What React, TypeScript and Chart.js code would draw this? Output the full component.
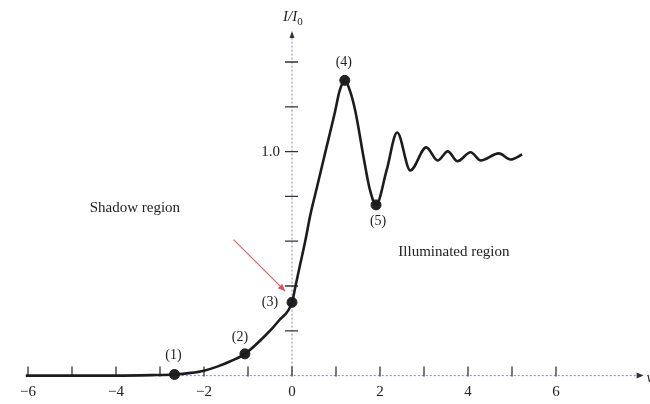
import React, { useEffect, useRef } from "react";
import { Chart, registerables } from "chart.js";

Chart.register(...registerables);

// Curve: v (Fresnel parameter) and relative intensity I/I0
const curveV = [-6.05, -5, -4, -3.2, -2.67, -2.3, -2.0, -1.7, -1.4, -1.07, -0.6, -0.3, 0, 0.08, 0.19, 0.3, 0.42, 0.57, 0.73, 0.98, 1.08, 1.2, 1.32, 1.44, 1.64, 1.77, 1.91, 2.15, 2.39, 2.69, 3.05, 3.31, 3.54, 3.76, 4.06, 4.29, 4.7, 4.97, 5.23];
const curveI = [0.0, 0.0, 0.0, 0.002, 0.005, 0.012, 0.022, 0.04, 0.064, 0.097, 0.18, 0.245, 0.327, 0.4, 0.5, 0.6, 0.72, 0.843, 0.975, 1.18, 1.27, 1.318, 1.27, 1.18, 0.96, 0.83, 0.762, 0.916, 1.085, 0.916, 1.019, 0.96, 1.001, 0.957, 0.997, 0.96, 0.992, 0.965, 0.987];

// Marked points
const markerV = [-2.67, -1.07, 0, 1.2, 1.91];
const markerI = [0.005, 0.097, 0.327, 1.318, 0.762];
const markerLabels = ["(1)", "(2)", "(3)", "(4)", "(5)"];

// Axes
const xTickValues = [-6, -5, -4, -3, -2, -1, 0, 1, 2, 3, 4, 5, 6];
const xLabelValues = [-6, -4, -2, 0, 2, 4, 6];
const xLabelTexts = ["\u22126", "\u22124", "\u22122", "0", "2", "4", "6"];
const yTickValues = [0.2, 0.4, 0.6, 0.8, 1.0, 1.2, 1.4];
const yLabelValues = [1.0];
const yLabelTexts = ["1.0"];
const xAxisEnd = 7.9;
const yAxisEnd = 1.52;

// Region captions (data coordinates)
const regionTexts = ["Shadow region", "Illuminated region"];
const regionV = [-3.57, 3.68];
const regionI = [0.75, 0.55];

// Red pointer arrow (data coordinates): from -> to
const pointerFromV = -1.33;
const pointerFromI = 0.607;
const pointerToV = -0.154;
const pointerToI = 0.377;

const SERIF = '"Liberation Serif", "DejaVu Serif", "Times New Roman", serif';

const labelOffsets: [number, number][] = [
  [-1, -19],
  [-5, -17],
  [-22, 0],
  [-1, -18],
  [2, 16],
];

const overlayPlugin = {
  id: "figOverlay",
  beforeDatasetsDraw(chart: any) {
    const ctx = chart.ctx;
    const xs = chart.scales.x;
    const ys = chart.scales.y;
    const x0 = xs.getPixelForValue(0);
    const y0 = ys.getPixelForValue(0);
    ctx.save();
    // axis lines (dotted, bluish)
    ctx.strokeStyle = "rgba(110,110,200,0.85)";
    ctx.lineWidth = 1;
    ctx.setLineDash([2, 2]);
    ctx.beginPath();
    ctx.moveTo(xs.getPixelForValue(-6.05), y0);
    ctx.lineTo(xs.getPixelForValue(xAxisEnd), y0);
    ctx.moveTo(x0, y0);
    ctx.lineTo(x0, ys.getPixelForValue(yAxisEnd));
    ctx.stroke();
    ctx.setLineDash([]);
    // arrow heads
    const xe = xs.getPixelForValue(xAxisEnd);
    const ye = ys.getPixelForValue(yAxisEnd);
    ctx.fillStyle = "#333";
    ctx.beginPath();
    ctx.moveTo(xe + 4, y0);
    ctx.lineTo(xe - 3, y0 - 3);
    ctx.lineTo(xe - 3, y0 + 3);
    ctx.closePath();
    ctx.fill();
    ctx.beginPath();
    ctx.moveTo(x0, ye - 4);
    ctx.lineTo(x0 - 2.5, ye + 3);
    ctx.lineTo(x0 + 2.5, ye + 3);
    ctx.closePath();
    ctx.fill();
    // tick marks
    ctx.strokeStyle = "#333";
    ctx.lineWidth = 1.3;
    ctx.beginPath();
    xTickValues.forEach((v) => {
      const px = xs.getPixelForValue(v);
      ctx.moveTo(px, y0 + 1);
      ctx.lineTo(px, y0 - 9);
    });
    yTickValues.forEach((v) => {
      const py = ys.getPixelForValue(v);
      ctx.moveTo(x0 - 7, py);
      ctx.lineTo(x0 + 6, py);
    });
    ctx.stroke();
    // tick labels
    ctx.fillStyle = "#222";
    ctx.font = `15px ${SERIF}`;
    ctx.textAlign = "center";
    ctx.textBaseline = "middle";
    xLabelValues.forEach((v, i) => {
      ctx.fillText(xLabelTexts[i], xs.getPixelForValue(v), y0 + 16);
    });
    ctx.textAlign = "right";
    yLabelValues.forEach((v, i) => {
      ctx.fillText(yLabelTexts[i], x0 - 12, ys.getPixelForValue(v));
    });
    // axis titles
    ctx.font = `italic 15px ${SERIF}`;
    ctx.textAlign = "left";
    ctx.fillText("I/I", x0 - 9, 17);
    const w = ctx.measureText("I/I").width;
    ctx.font = `11px ${SERIF}`;
    ctx.fillText("0", x0 - 9 + w, 22);
    ctx.font = `italic 15px ${SERIF}`;
    ctx.fillText("v", xe + 7, y0 + 2);
    ctx.restore();
  },
  afterDatasetsDraw(chart: any) {
    const ctx = chart.ctx;
    const xs = chart.scales.x;
    const ys = chart.scales.y;
    ctx.save();
    ctx.fillStyle = "#222";
    ctx.font = `14px ${SERIF}`;
    ctx.textAlign = "center";
    ctx.textBaseline = "middle";
    markerV.forEach((v, i) => {
      const [dx, dy] = labelOffsets[i];
      ctx.fillText(markerLabels[i], xs.getPixelForValue(v) + dx, ys.getPixelForValue(markerI[i]) + dy);
    });
    ctx.font = `15px ${SERIF}`;
    regionTexts.forEach((t, i) => {
      ctx.fillText(t, xs.getPixelForValue(regionV[i]), ys.getPixelForValue(regionI[i]));
    });
    // red pointer
    const fx = xs.getPixelForValue(pointerFromV);
    const fy = ys.getPixelForValue(pointerFromI);
    const tx = xs.getPixelForValue(pointerToV);
    const ty = ys.getPixelForValue(pointerToI);
    ctx.strokeStyle = "#e0606a";
    ctx.fillStyle = "#e0505a";
    ctx.lineWidth = 1.2;
    ctx.beginPath();
    ctx.moveTo(fx, fy);
    ctx.lineTo(tx, ty);
    ctx.stroke();
    const ang = Math.atan2(ty - fy, tx - fx);
    ctx.beginPath();
    ctx.moveTo(tx, ty);
    ctx.lineTo(tx - 8 * Math.cos(ang - 0.4), ty - 8 * Math.sin(ang - 0.4));
    ctx.lineTo(tx - 8 * Math.cos(ang + 0.4), ty - 8 * Math.sin(ang + 0.4));
    ctx.closePath();
    ctx.fill();
    ctx.restore();
  },
};

export default function App() {
  const ref = useRef<HTMLCanvasElement>(null);
  useEffect(() => {
    if (!ref.current) return;
    const chart = new Chart(ref.current, {
      type: "scatter",
      data: {
        datasets: [
          {
            data: curveV.map((v, i) => ({ x: v, y: curveI[i] })),
            showLine: true,
            borderColor: "#1c1c1c",
            borderWidth: 2.6,
            pointRadius: 0,
            cubicInterpolationMode: "monotone",
          } as any,
          {
            data: markerV.map((v, i) => ({ x: v, y: markerI[i] })),
            showLine: false,
            pointRadius: 5,
            backgroundColor: "#222",
            borderColor: "#222",
          },
        ],
      },
      options: {
        animation: false,
        responsive: false,
        maintainAspectRatio: false,
        layout: { padding: { left: 2, right: 6, top: 4, bottom: 4 } },
        plugins: { legend: { display: false }, tooltip: { enabled: false } },
        scales: {
          x: { type: "linear", display: false, min: -6.5, max: 8 },
          y: { type: "linear", display: false, min: -0.1, max: 1.65 },
        },
      },
      plugins: [overlayPlugin],
    });
    return () => chart.destroy();
  }, []);
  return (
    <div style={{ position: "fixed", left: 0, top: 0, width: 650, height: 404, background: "#fff" }}>
      <canvas ref={ref} width={650} height={404} style={{ width: 650, height: 404 }} />
    </div>
  );
}
